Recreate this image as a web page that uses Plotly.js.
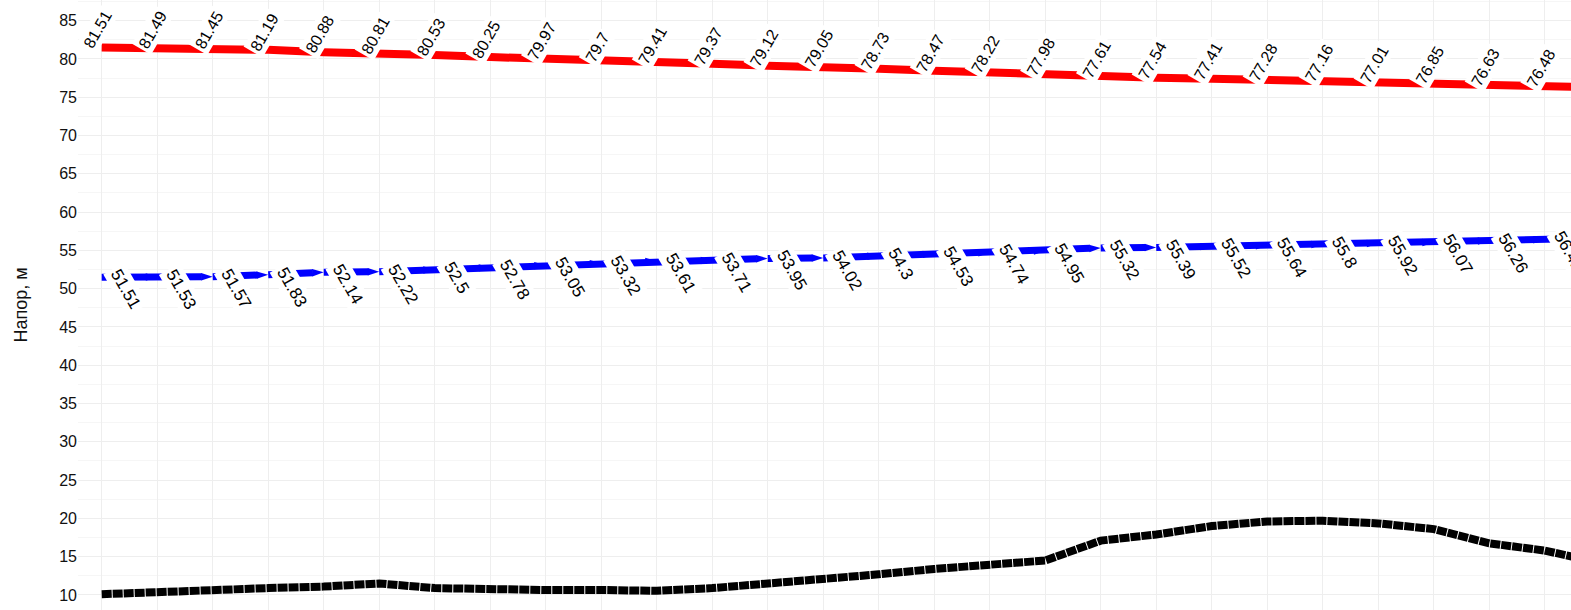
<!DOCTYPE html>
<html>
<head>
<meta charset="utf-8">
<script src="https://cdn.plot.ly/plotly-3.0.1.min.js"></script>
<style>
html,body{margin:0;padding:0;background:#fff;overflow:hidden;}
#chart{width:1571px;height:610px;}
</style>
</head>
<body>
<div id="chart"></div>
<script>
// point numbers along the x axis
const points = [1,2,3,4,5,6,7,8,9,10,11,12,13,14,15,16,17,18,19,20,21,22,23,24,25,26,27,28];
// red series (upper head)
const redValues = [81.51,81.49,81.45,81.19,80.88,80.81,80.53,80.25,79.97,79.7,79.41,79.37,79.12,79.05,78.73,78.47,78.22,77.98,77.61,77.54,77.41,77.28,77.16,77.01,76.85,76.63,76.48,76.3];
// blue series
const blueValues = [51.51,51.53,51.57,51.83,52.14,52.22,52.5,52.78,53.05,53.32,53.61,53.71,53.95,54.02,54.3,54.53,54.74,54.95,55.32,55.39,55.52,55.64,55.8,55.92,56.07,56.26,56.42,56.6];
// black series (ground profile)
const blackValues = [10.1,10.4,10.8,10.9,11.1,11.5,10.9,10.65,10.65,10.65,10.55,10.9,11.5,11.9,12.7,13.4,14.05,14.5,17.1,17.9,19.0,19.6,19.7,19.35,18.6,16.75,15.8,14.2];
const yTicks = [10,15,20,25,30,35,40,45,50,55,60,65,70,75,80,85];
const yTitle = 'Напор, м';

const FONT = '"Liberation Sans", Arial, sans-serif';

const traces = [
  {x: points, y: blackValues, mode: 'lines', line: {color: '#000000', width: 8, dash: '10px,1px'}, hoverinfo: 'skip'},
  {x: points, y: blueValues, mode: 'lines+markers', line: {color: '#0000ff', width: 7},
   marker: {symbol: 'arrow', angleref: 'previous', size: 12, color: '#0000ff'}, hoverinfo: 'skip'},
  {x: points, y: redValues, mode: 'lines', line: {color: '#ff0000', width: 8}, hoverinfo: 'skip'}
];

const annotations = [];
points.forEach((p, i) => {
  annotations.push({x: p, y: redValues[i], xref: 'x', yref: 'y', text: String(redValues[i]),
    showarrow: false, textangle: -60, xanchor: 'center', yanchor: 'bottom', xshift: -4, yshift: -8,
    bgcolor: '#ffffff', borderpad: 2, font: {family: FONT, size: 16, color: '#000000'}});
  annotations.push({x: p, y: blueValues[i], xref: 'x', yref: 'y', text: String(blueValues[i]),
    showarrow: false, textangle: 60, xanchor: 'left', yanchor: 'top', xshift: 1, yshift: 15,
    bgcolor: '#ffffff', borderpad: 2, font: {family: FONT, size: 17, color: '#000000'}});
});

const layout = {
  width: 1571, height: 610,
  margin: {l: 78, r: 0, t: 0, b: 0, pad: 0},
  paper_bgcolor: '#ffffff', plot_bgcolor: '#ffffff',
  showlegend: false,
  font: {family: FONT, color: '#111111'},
  xaxis: {range: [0.573, 27.473], showticklabels: false, ticks: '', dtick: 1, tick0: 1,
    showgrid: true, gridcolor: '#eeeeee', gridwidth: 1, zeroline: false, showline: false, automargin: false},
  yaxis: {range: [8.04, 87.70], tickvals: yTicks, ticks: '', showline: false, zeroline: false,
    gridcolor: '#eeeeee', gridwidth: 1, automargin: false,
    minor: {dtick: 2.5, tick0: 0, showgrid: true, gridcolor: '#f6f6f6', gridwidth: 1},
    tickfont: {family: FONT, size: 16, color: '#111111'},
    title: {text: yTitle, font: {family: FONT, size: 18, color: '#111111'}, standoff: 26}},
  annotations: annotations
};

Plotly.newPlot('chart', traces, layout, {displayModeBar: false, staticPlot: true});
</script>
</body>
</html>
